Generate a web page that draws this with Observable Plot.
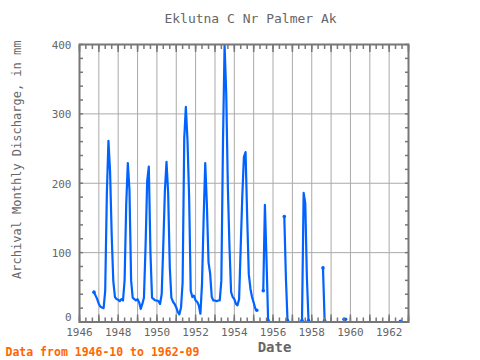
<!DOCTYPE html>
<html><head><meta charset="utf-8">
<script src="https://cdn.jsdelivr.net/npm/d3@7"></script>
<script src="https://cdn.jsdelivr.net/npm/@observablehq/plot@0.6"></script>
<style>html,body{margin:0;padding:0;background:#fff;}</style>
</head><body><div id="chart"></div>
<script>
const title = "Eklutna C Nr Palmer Ak";
const yLabel = "Archival Monthly Discharge, in mm";
const xLabel = "Date";
const caption = "Data from 1946-10 to 1962-09";
const xTickYears = [1946, 1948, 1950, 1952, 1954, 1956, 1958, 1960, 1962];
const yTickValues = [100, 200, 300, 400];
const yZeroTick = [0];

// monthly discharge, Jan..Dec of each year (null = no record)
const v1946 = [null, null, null, null, null, null, null, null, null, 43, 38, 33];
const v1947 = [26, 22, 21, 20, 45, 184, 261, 217, 124, 59, 36, 33];
const v1948 = [32, 30, 33, 31, 60, 170, 229, 190, 60, 35, 33, 31];
const v1949 = [33, 28, 19, 26, 35, 110, 203, 224, 100, 35, 33, 31];
const v1950 = [31, 30, 26, 40, 110, 190, 231, 186, 79, 35, 29, 26];
const v1951 = [21, 14, 11, 21, 57, 265, 310, 262, 180, 45, 36, 38];
const v1952 = [31, 29, 24, 12, 55, 150, 229, 169, 86, 70, 36, 31];
const v1953 = [31, 30, 31, 31, 60, 260, 398, 330, 194, 110, 43, 36];
const v1954 = [33, 26, 24, 33, 107, 183, 238, 245, 150, 69, 48, 36];
const v1955 = [28, 19, 17, null, null, null, 45, 169, 88, 2, null, null];
const v1956 = [null, null, null, null, null, null, null, 152, 62, 2, null, null];
const v1957 = [null, null, null, null, null, null, 2, 186, 171, 65, 2, null];
const v1958 = [null, null, null, null, null, null, null, 78, 2, null, null, null];
const v1959 = [null, null, null, null, null, null, null, null, 4, 4, null, null];
const v1960 = [null, null, null, null, null, null, null, null, null, null, null, null];
const v1961 = [null, null, null, null, null, null, null, null, null, null, null, null];
const v1962 = [null, null, null, null, null, null, null, 1, null, null, null, null];

const years = d3.range(1946, 1963);
const byYear = [v1946, v1947, v1948, v1949, v1950, v1951, v1952, v1953, v1954,
                v1955, v1956, v1957, v1958, v1959, v1960, v1961, v1962];
const first = new Date(Date.UTC(1946, 9, 1));
const last = new Date(Date.UTC(1962, 8, 1));
const data = [];
years.forEach((y, i) => byYear[i].forEach((v, m) => {
  const d = new Date(Date.UTC(y, m, 1));
  if (d >= first && d <= last) data.push({date: d, value: v});
}));
const ends = data.filter((d, i) => d.value != null &&
  (i === 0 || data[i - 1].value == null || i === data.length - 1 || data[i + 1].value == null));

const blue = "#0062ff";
const grey = "#666";
const frameGrey = "#777";
const blank = () => "";

const chart = Plot.plot({
  width: 480, height: 360,
  marginLeft: 79, marginRight: 72, marginTop: 44, marginBottom: 38.5,
  style: {fontFamily: "DejaVu Sans Mono", background: "#fff"},
  x: {type: "utc", domain: [new Date(Date.UTC(1946, 0, 1)), new Date(Date.UTC(1963, 0, 1))]},
  y: {domain: [0, 400]},
  marks: [
    Plot.gridX({ticks: d3.utcYear.every(1), stroke: "#aaa", strokeOpacity: 1}),
    Plot.gridY({ticks: [100, 200, 300], stroke: "#aaa", strokeOpacity: 1}),
    Plot.line(data, {x: "date", y: "value", stroke: blue, strokeWidth: 2.2}),
    Plot.dot(ends, {x: "date", y: "value", r: 1.8, fill: blue, stroke: null}),
    Plot.frame({stroke: frameGrey, strokeWidth: 2}),
    Plot.axisX({anchor: "bottom", ticks: d3.utcMonth.every(4), tickSize: -4, tickFormat: blank, label: null, stroke: frameGrey, strokeWidth: 1.5}),
    Plot.axisX({anchor: "top", ticks: d3.utcMonth.every(4), tickSize: -4, tickFormat: blank, label: null, stroke: frameGrey, strokeWidth: 1.5}),
    Plot.axisX({anchor: "bottom", ticks: d3.utcYear.every(1), tickSize: -7, tickFormat: blank, label: null, stroke: frameGrey, strokeWidth: 1.5}),
    Plot.axisX({anchor: "top", ticks: d3.utcYear.every(1), tickSize: -7, tickFormat: blank, label: null, stroke: frameGrey, strokeWidth: 1.5}),
    Plot.axisY({anchor: "left", ticks: d3.range(0, 401, 20), tickSize: -4, tickFormat: blank, label: null, stroke: frameGrey, strokeWidth: 1.5}),
    Plot.axisY({anchor: "right", ticks: d3.range(0, 401, 20), tickSize: -4, tickFormat: blank, label: null, stroke: frameGrey, strokeWidth: 1.5}),
    Plot.axisX({anchor: "bottom", ticks: xTickYears.map(y => new Date(Date.UTC(y, 0, 1))), tickSize: 0, tickPadding: 6, tickFormat: d3.utcFormat("%Y"), label: null, color: grey, fontSize: 11}),
    Plot.axisY({anchor: "left", ticks: yTickValues, tickSize: 0, tickPadding: 8, label: null, color: grey, fontSize: 11, dy: 1}),
    Plot.axisY({anchor: "left", ticks: yZeroTick, tickSize: 0, tickPadding: 8, label: null, color: grey, fontSize: 11, dy: -5}),
    Plot.text([title], {text: d => d, frameAnchor: "top", lineAnchor: "middle", dx: 6.5, dy: -26, fontSize: 13, fill: grey}),
    Plot.text([yLabel], {text: d => d, frameAnchor: "left", textAnchor: "middle", lineAnchor: "middle", rotate: -90, dx: -62, dy: -23.5, fontSize: 12, fill: grey}),
    Plot.text([xLabel], {text: d => d, frameAnchor: "bottom", lineAnchor: "middle", dx: 30.5, dy: 26, fontSize: 14, fontWeight: "bold", fill: grey}),
    Plot.text([caption], {text: d => d, frameAnchor: "bottom-left", textAnchor: "start", lineAnchor: "middle", dx: -74, dy: 30.5, fontSize: 11.5, fontWeight: "bold", fill: "#ff6600"})
  ]
});
document.getElementById("chart").appendChild(chart);
</script>
</body></html>
